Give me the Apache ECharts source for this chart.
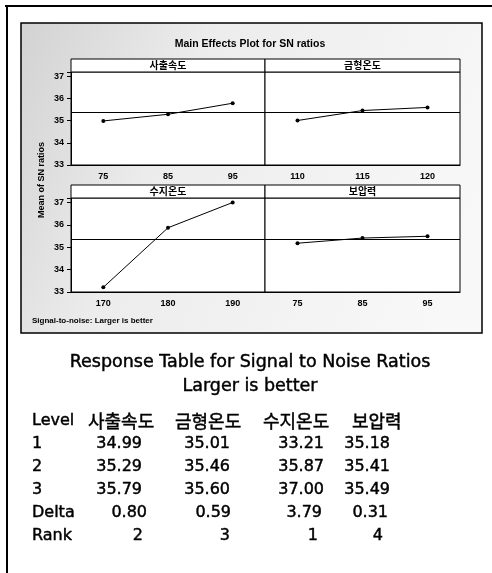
<!DOCTYPE html>
<html>
<head>
<meta charset="utf-8">
<script src="https://cdn.jsdelivr.net/npm/echarts@6/dist/echarts.min.js"></script>
<style>
  html, body { margin: 0; padding: 0; background: #fff; }
  #container { width: 492px; height: 573px; }
</style>
</head>
<body>
<div id="container"></div>
<script>
var dom = document.getElementById("container");
var myChart = echarts.init(dom);

// factors and their levels
var factors = ['사출속도', '금형온도', '수지온도', '보압력'];
var levelsSpeed = ['75', '85', '95'];
var levelsMold = ['110', '115', '120'];
var levelsResin = ['170', '180', '190'];
var levelsPress = ['75', '85', '95'];

// mean S/N ratio per level
var snSpeed = [34.99, 35.29, 35.79];
var snMold = [35.01, 35.46, 35.60];
var snResin = [33.21, 35.87, 37.00];
var snPress = [35.18, 35.41, 35.49];

var deltas = [0.80, 0.59, 3.79, 0.31];
var ranks = [2, 3, 1, 4];
var rowNames = ['1', '2', '3', 'Delta', 'Rank'];

var levels = [levelsSpeed, levelsMold, levelsResin, levelsPress];
var sn = [snSpeed, snMold, snResin, snPress];

var yMin = 33, yMax = 37.2;
var grids = [
    {left: 71, top: 72, width: 194, height: 93},
    {left: 265, top: 72, width: 195, height: 93},
    {left: 71, top: 198, width: 194, height: 94},
    {left: 265, top: 198, width: 195, height: 94}
];

var plotFont = 'Liberation Sans';
var xAxes = [], yAxes = [], series = [], graphics = [];

grids.forEach(function (g, i) {
    g.show = true;
    g.backgroundColor = '#fff';
    g.borderColor = '#000';
    g.borderWidth = 1;
    xAxes.push({
        type: 'category', gridIndex: i, data: levels[i], boundaryGap: true,
        axisLine: {lineStyle: {color: '#000'}},
        axisTick: {alignWithLabel: true, length: 3, lineStyle: {color: '#000'}},
        axisLabel: {color: '#000', fontSize: 9, fontWeight: 'bold', fontFamily: plotFont, margin: 7}
    });
    yAxes.push({
        type: 'value', gridIndex: i, min: yMin, max: yMax, interval: 1,
        show: i % 2 === 0,
        splitLine: {show: false},
        axisLine: {show: true, lineStyle: {color: '#000'}},
        axisTick: {show: true, length: 4, lineStyle: {color: '#000'}},
        axisLabel: {
            color: '#000', fontSize: 9, fontWeight: 'bold', fontFamily: plotFont, margin: 7,
            formatter: function (v) { return Number.isInteger(v) ? String(v) : ''; }
        }
    });
    series.push({
        type: 'line', xAxisIndex: i, yAxisIndex: i, data: sn[i],
        symbol: 'circle', symbolSize: 4,
        itemStyle: {color: '#000'},
        lineStyle: {color: '#000', width: 1},
        markLine: {
            silent: true, symbol: 'none', label: {show: false},
            lineStyle: {color: '#000', type: 'solid', width: 1},
            data: [{type: 'average'}]
        }
    });
    // strip with factor name
    graphics.push({
        type: 'rect', z: 5,
        shape: {x: g.left, y: g.top - 13, width: g.width, height: 13},
        style: {fill: '#fff', stroke: '#000', lineWidth: 1}
    });
    graphics.push({
        type: 'text', z: 6, x: g.left + g.width / 2, y: g.top - 6.5,
        style: {text: factors[i], fill: '#000', font: 'bold 10px "Noto Sans CJK KR"',
            textAlign: 'center', textVerticalAlign: 'middle'}
    });
});

// plot frame with stippled-looking background
graphics.unshift({
    type: 'rect', z: -10,
    shape: {x: 21, y: 23, width: 461, height: 310},
    style: {
        fill: new echarts.graphic.LinearGradient(0, 0, 1, 0.6, [
            {offset: 0, color: '#d2d2d2'},
            {offset: 0.35, color: '#ececec'},
            {offset: 1, color: '#f8f8f8'}
        ]),
        stroke: '#000', lineWidth: 1.5
    }
});
// outer border (top and left)
graphics.push({type: 'line', shape: {x1: 5, y1: 6, x2: 492, y2: 6}, style: {stroke: '#000', lineWidth: 2}});
graphics.push({type: 'line', shape: {x1: 7, y1: 6, x2: 7, y2: 573}, style: {stroke: '#000', lineWidth: 2}});

graphics.push({
    type: 'text', x: 250, y: 44,
    style: {text: 'Main Effects Plot for SN ratios', fill: '#000', font: 'bold 10.5px "Liberation Sans"',
        textAlign: 'center', textVerticalAlign: 'middle'}
});
graphics.push({
    type: 'text', x: 42, y: 180, rotation: Math.PI / 2,
    style: {text: 'Mean of SN ratios', fill: '#000', font: 'bold 9px "Liberation Sans"',
        textAlign: 'center', textVerticalAlign: 'middle'}
});
graphics.push({
    type: 'text', x: 32, y: 321,
    style: {text: 'Signal-to-noise: Larger is better', fill: '#000', font: 'bold 8px "Liberation Sans"',
        textAlign: 'left', textVerticalAlign: 'middle'}
});

// response table; a thin stroke gives the heavier look of the scan
var tableFont = '"DejaVu Sans"';
function tableText(x, y, txt, font, align) {
    return {
        type: 'text', x: x, y: y,
        style: {text: txt, fill: '#000', font: font, textAlign: align || 'left',
            textVerticalAlign: 'middle', stroke: '#000', lineWidth: 0.45}
    };
}
graphics.push(tableText(250, 362, 'Response Table for Signal to Noise Ratios', '17.5px ' + tableFont, 'center'));
graphics.push(tableText(250, 386, 'Larger is better', '17.5px ' + tableFont, 'center'));

var rowY = [421, 444, 467, 490, 513, 536];
var headX = [88, 175, 263, 352];
var colRight = [
    [142, 230, 324, 390],
    [142, 230, 324, 390],
    [142, 230, 324, 390],
    [147, 231, 322, 388],
    [143, 230, 318, 383]
];

graphics.push(tableText(32, rowY[0], 'Level', '16px ' + tableFont));
factors.forEach(function (f, j) {
    graphics.push(tableText(headX[j], rowY[0], f, '18px "Noto Sans CJK KR"'));
});
rowNames.forEach(function (name, r) {
    graphics.push(tableText(32, rowY[r + 1], name, '16px ' + tableFont));
    factors.forEach(function (f, j) {
        var txt;
        if (r < 3) txt = sn[j][r].toFixed(2);
        else if (r === 3) txt = deltas[j].toFixed(2);
        else txt = String(ranks[j]);
        graphics.push(tableText(colRight[r][j], rowY[r + 1], txt, '16px ' + tableFont, 'right'));
    });
});

var option = {
    backgroundColor: '#fff',
    animation: false,
    grid: grids,
    xAxis: xAxes,
    yAxis: yAxes,
    series: series,
    graphic: graphics
};

if (option && typeof option === 'object') {
    myChart.setOption(option);
}
</script>
</body>
</html>
